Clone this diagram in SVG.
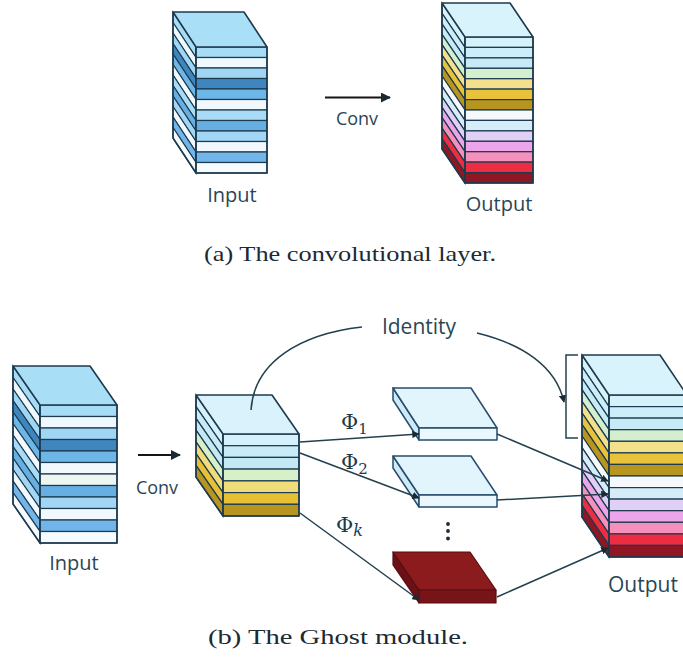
<svg xmlns="http://www.w3.org/2000/svg" width="683" height="661" viewBox="0 0 683 661">
<style>
.ln{stroke:#1d3a4e;stroke-width:1.2;vector-effect:non-scaling-stroke}
.edge{fill:none;stroke:#1d3a4e;stroke-width:1.6;stroke-linejoin:round}
.lbl{font-family:"Open Sans","Noto Sans",sans-serif;fill:#2a4655;text-anchor:middle}
.cap{font-family:"Liberation Serif","Times New Roman",serif;fill:#1b2a33;text-anchor:middle}
.phi{font-family:"DejaVu Serif","Liberation Serif",serif;fill:#1e3a4a}
.wire{fill:none;stroke:#23404e;stroke-width:1.5}
.conv{fill:none;stroke:#151515;stroke-width:2}
.thin-blue{stroke:#264c6e;stroke-width:1.5;stroke-linejoin:round}
.thin-red{stroke:#5a0e10;stroke-width:1.2;stroke-linejoin:round}
</style>
<defs>
<marker id="ah" viewBox="0 0 10 10" refX="9" refY="5" markerWidth="5" markerHeight="5" orient="auto">
<path d="M0,0 L10,5 L0,10 Z" fill="#1a2a33"/>
</marker>
</defs>

<!-- (a) input feature map -->
<g id="conv-input">
<g transform="translate(196 0) skewY(56.69)">
<rect class="ln" x="-23" y="47" width="23" height="10.5" fill="#a6dcf5"/>
<rect class="ln" x="-23" y="57.5" width="23" height="10.5" fill="#eef8fd"/>
<rect class="ln" x="-23" y="68" width="23" height="10.5" fill="#9fd6f3"/>
<rect class="ln" x="-23" y="78.5" width="23" height="10.5" fill="#3f86bf"/>
<rect class="ln" x="-23" y="89" width="23" height="10.5" fill="#6db6e8"/>
<rect class="ln" x="-23" y="99.5" width="23" height="10.5" fill="#f1f9fe"/>
<rect class="ln" x="-23" y="110" width="23" height="10.5" fill="#a8dbf6"/>
<rect class="ln" x="-23" y="120.5" width="23" height="10.5" fill="#67aee3"/>
<rect class="ln" x="-23" y="131" width="23" height="10.5" fill="#a3d6f4"/>
<rect class="ln" x="-23" y="141.5" width="23" height="10.5" fill="#f1f9fe"/>
<rect class="ln" x="-23" y="152" width="23" height="10.5" fill="#72b5e9"/>
<rect class="ln" x="-23" y="162.5" width="23" height="10.5" fill="#f5fbff"/>
</g>
<g class="ln">
<rect x="196" y="47" width="71" height="10.5" fill="#a6dcf5"/>
<rect x="196" y="57.5" width="71" height="10.5" fill="#eef8fd"/>
<rect x="196" y="68" width="71" height="10.5" fill="#9fd6f3"/>
<rect x="196" y="78.5" width="71" height="10.5" fill="#3f86bf"/>
<rect x="196" y="89" width="71" height="10.5" fill="#6db6e8"/>
<rect x="196" y="99.5" width="71" height="10.5" fill="#f1f9fe"/>
<rect x="196" y="110" width="71" height="10.5" fill="#a8dbf6"/>
<rect x="196" y="120.5" width="71" height="10.5" fill="#67aee3"/>
<rect x="196" y="131" width="71" height="10.5" fill="#a3d6f4"/>
<rect x="196" y="141.5" width="71" height="10.5" fill="#f1f9fe"/>
<rect x="196" y="152" width="71" height="10.5" fill="#72b5e9"/>
<rect x="196" y="162.5" width="71" height="10.5" fill="#f5fbff"/>
</g>
<polygon points="196,47 173,12 244,12 267,47" fill="#aadff8"/>
<path class="edge" d="M173,12 L244,12 L267,47 L267,173 L196,173 L173,138 Z M173,12 L196,47 L267,47 M196,47 V173"/>
<text class="lbl" x="232" y="202" font-size="20">Input</text>
</g>

<!-- (a) output feature map -->
<g id="conv-output">
<g transform="translate(465 0) skewY(55.92)">
<rect class="ln" x="-23" y="37" width="23" height="10.4" fill="#d5f2fb"/>
<rect class="ln" x="-23" y="47.4" width="23" height="10.5" fill="#cbeefa"/>
<rect class="ln" x="-23" y="57.9" width="23" height="10.4" fill="#c6ebf6"/>
<rect class="ln" x="-23" y="68.3" width="23" height="10.4" fill="#d3efcf"/>
<rect class="ln" x="-23" y="78.7" width="23" height="10.4" fill="#f3e08c"/>
<rect class="ln" x="-23" y="89.1" width="23" height="10.5" fill="#e8c23a"/>
<rect class="ln" x="-23" y="99.6" width="23" height="10.4" fill="#b8951f"/>
<rect class="ln" x="-23" y="110" width="23" height="10.4" fill="#f5f9fb"/>
<rect class="ln" x="-23" y="120.4" width="23" height="10.5" fill="#d6ecf8"/>
<rect class="ln" x="-23" y="130.9" width="23" height="10.4" fill="#e1d0f5"/>
<rect class="ln" x="-23" y="141.3" width="23" height="10.4" fill="#eba5e8"/>
<rect class="ln" x="-23" y="151.7" width="23" height="10.4" fill="#f58fbc"/>
<rect class="ln" x="-23" y="162.1" width="23" height="10.5" fill="#ee2d42"/>
<rect class="ln" x="-23" y="172.6" width="23" height="10.4" fill="#8f1623"/>
</g>
<g class="ln">
<rect x="465" y="37" width="68" height="10.4" fill="#d5f2fb"/>
<rect x="465" y="47.4" width="68" height="10.5" fill="#cbeefa"/>
<rect x="465" y="57.9" width="68" height="10.4" fill="#c6ebf6"/>
<rect x="465" y="68.3" width="68" height="10.4" fill="#d3efcf"/>
<rect x="465" y="78.7" width="68" height="10.4" fill="#f3e08c"/>
<rect x="465" y="89.1" width="68" height="10.5" fill="#e8c23a"/>
<rect x="465" y="99.6" width="68" height="10.4" fill="#b8951f"/>
<rect x="465" y="110" width="68" height="10.4" fill="#f5f9fb"/>
<rect x="465" y="120.4" width="68" height="10.5" fill="#d6ecf8"/>
<rect x="465" y="130.9" width="68" height="10.4" fill="#e1d0f5"/>
<rect x="465" y="141.3" width="68" height="10.4" fill="#eba5e8"/>
<rect x="465" y="151.7" width="68" height="10.4" fill="#f58fbc"/>
<rect x="465" y="162.1" width="68" height="10.5" fill="#ee2d42"/>
<rect x="465" y="172.6" width="68" height="10.4" fill="#8f1623"/>
</g>
<polygon points="465,37 442,3 510,3 533,37" fill="#d8f3fc"/>
<path class="edge" d="M442,3 L510,3 L533,37 L533,183 L465,183 L442,149 Z M442,3 L465,37 L533,37 M465,37 V183"/>
<text class="lbl" x="499" y="211" font-size="20">Output</text>
</g>

<!-- (b) input feature map -->
<g id="ghost-input">
<g transform="translate(40 0) skewY(55.30)">
<rect class="ln" x="-27" y="405" width="27" height="11.5" fill="#a6dcf5"/>
<rect class="ln" x="-27" y="416.5" width="27" height="11.5" fill="#eef8fd"/>
<rect class="ln" x="-27" y="428" width="27" height="11.5" fill="#9fd6f3"/>
<rect class="ln" x="-27" y="439.5" width="27" height="11.5" fill="#3f86bf"/>
<rect class="ln" x="-27" y="451" width="27" height="11.5" fill="#6db6e8"/>
<rect class="ln" x="-27" y="462.5" width="27" height="11.5" fill="#f1f9fe"/>
<rect class="ln" x="-27" y="474" width="27" height="11.5" fill="#a8dbf6"/>
<rect class="ln" x="-27" y="485.5" width="27" height="11.5" fill="#67aee3"/>
<rect class="ln" x="-27" y="497" width="27" height="11.5" fill="#a3d6f4"/>
<rect class="ln" x="-27" y="508.5" width="27" height="11.5" fill="#f1f9fe"/>
<rect class="ln" x="-27" y="520" width="27" height="11.5" fill="#72b5e9"/>
<rect class="ln" x="-27" y="531.5" width="27" height="11.5" fill="#f5fbff"/>
</g>
<g class="ln">
<rect x="40" y="405" width="77" height="11.5" fill="#a6dcf5"/>
<rect x="40" y="416.5" width="77" height="11.5" fill="#eef8fd"/>
<rect x="40" y="428" width="77" height="11.5" fill="#9fd6f3"/>
<rect x="40" y="439.5" width="77" height="11.5" fill="#3f86bf"/>
<rect x="40" y="451" width="77" height="11.5" fill="#6db6e8"/>
<rect x="40" y="462.5" width="77" height="11.5" fill="#f1f9fe"/>
<rect x="40" y="474" width="77" height="11.5" fill="#eef6f2"/>
<rect x="40" y="485.5" width="77" height="11.5" fill="#67aee3"/>
<rect x="40" y="497" width="77" height="11.5" fill="#a3d6f4"/>
<rect x="40" y="508.5" width="77" height="11.5" fill="#f1f9fe"/>
<rect x="40" y="520" width="77" height="11.5" fill="#72b5e9"/>
<rect x="40" y="531.5" width="77" height="11.5" fill="#f5fbff"/>
</g>
<polygon points="40,405 13,366 90,366 117,405" fill="#a9def7"/>
<path class="edge" d="M13,366 L90,366 L117,405 L117,543 L40,543 L13,504 Z M13,366 L40,405 L117,405 M40,405 V543"/>
<text class="lbl" x="74" y="570" font-size="20">Input</text>
</g>

<!-- (b) intrinsic feature maps -->
<g id="intrinsic">
<g transform="translate(223 0) skewY(55.30)">
<rect class="ln" x="-27" y="434" width="27" height="11.7" fill="#d5f1fb"/>
<rect class="ln" x="-27" y="445.7" width="27" height="11.7" fill="#c9ebf8"/>
<rect class="ln" x="-27" y="457.4" width="27" height="11.7" fill="#c3e9f4"/>
<rect class="ln" x="-27" y="469.1" width="27" height="11.8" fill="#d6f0c9"/>
<rect class="ln" x="-27" y="480.9" width="27" height="11.7" fill="#f1dc7c"/>
<rect class="ln" x="-27" y="492.6" width="27" height="11.7" fill="#e8c033"/>
<rect class="ln" x="-27" y="504.3" width="27" height="11.7" fill="#b89521"/>
</g>
<g class="ln">
<rect x="223" y="434" width="76" height="11.7" fill="#d5f1fb"/>
<rect x="223" y="445.7" width="76" height="11.7" fill="#c9ebf8"/>
<rect x="223" y="457.4" width="76" height="11.7" fill="#c3e9f4"/>
<rect x="223" y="469.1" width="76" height="11.8" fill="#d6f0c9"/>
<rect x="223" y="480.9" width="76" height="11.7" fill="#f1dc7c"/>
<rect x="223" y="492.6" width="76" height="11.7" fill="#e8c033"/>
<rect x="223" y="504.3" width="76" height="11.7" fill="#b89521"/>
</g>
<polygon points="223,434 196,395 272,395 299,434" fill="#d9f2fb"/>
<path class="edge" d="M196,395 L272,395 L299,434 L299,516 L223,516 L196,477 Z M196,395 L223,434 L299,434 M223,434 V516"/>
</g>

<!-- (b) ghost maps from cheap operations -->
<g id="ghost-1">
<polygon class="thin-blue" points="419,428 393,388 393,400 419,440" fill="#cfeaf7"/>
<polygon class="thin-blue" points="419,428 393,388 471,388 497,428" fill="#e2f5fd"/>
<rect class="thin-blue" x="419" y="428" width="78" height="12" fill="#eaf7fd"/>
</g>
<g id="ghost-2">
<polygon class="thin-blue" points="419,495 393,456 393,468 419,507" fill="#cfeaf7"/>
<polygon class="thin-blue" points="419,495 393,456 471,456 497,495" fill="#e2f5fd"/>
<rect class="thin-blue" x="419" y="495" width="78" height="12" fill="#eaf7fd"/>
</g>
<g id="ellipsis" fill="#1a2a33">
<circle cx="448" cy="524" r="1.9"/>
<circle cx="448" cy="531" r="1.9"/>
<circle cx="448" cy="538.5" r="1.9"/>
</g>
<g id="ghost-k">
<polygon class="thin-red" points="419,590 393,552 393,565 419,603" fill="#6b1014"/>
<polygon class="thin-red" points="419,590 393,552 470,552 496,590" fill="#8b1b1d"/>
<rect class="thin-red" x="419" y="590" width="77" height="13" fill="#761418"/>
</g>

<!-- (b) output feature maps -->
<g id="ghost-output">
<g transform="translate(609 0) skewY(55.98)">
<rect class="ln" x="-27" y="395" width="27" height="11.6" fill="#d5f2fb"/>
<rect class="ln" x="-27" y="406.6" width="27" height="11.5" fill="#cbeefa"/>
<rect class="ln" x="-27" y="418.1" width="27" height="11.6" fill="#c6ebf6"/>
<rect class="ln" x="-27" y="429.7" width="27" height="11.6" fill="#d3efcf"/>
<rect class="ln" x="-27" y="441.3" width="27" height="11.6" fill="#f3e08c"/>
<rect class="ln" x="-27" y="452.9" width="27" height="11.5" fill="#e8c23a"/>
<rect class="ln" x="-27" y="464.4" width="27" height="11.6" fill="#b8951f"/>
<rect class="ln" x="-27" y="476" width="27" height="11.6" fill="#f5f9fb"/>
<rect class="ln" x="-27" y="487.6" width="27" height="11.5" fill="#d6ecf8"/>
<rect class="ln" x="-27" y="499.1" width="27" height="11.6" fill="#e1d0f5"/>
<rect class="ln" x="-27" y="510.7" width="27" height="11.6" fill="#eba5e8"/>
<rect class="ln" x="-27" y="522.3" width="27" height="11.6" fill="#f58fbc"/>
<rect class="ln" x="-27" y="533.9" width="27" height="11.5" fill="#ee2d42"/>
<rect class="ln" x="-27" y="545.4" width="27" height="11.6" fill="#8f1623"/>
</g>
<g class="ln">
<rect x="609" y="395" width="78" height="11.6" fill="#d5f2fb"/>
<rect x="609" y="406.6" width="78" height="11.5" fill="#cbeefa"/>
<rect x="609" y="418.1" width="78" height="11.6" fill="#c6ebf6"/>
<rect x="609" y="429.7" width="78" height="11.6" fill="#d3efcf"/>
<rect x="609" y="441.3" width="78" height="11.6" fill="#f3e08c"/>
<rect x="609" y="452.9" width="78" height="11.5" fill="#e8c23a"/>
<rect x="609" y="464.4" width="78" height="11.6" fill="#b8951f"/>
<rect x="609" y="476" width="78" height="11.6" fill="#f5f9fb"/>
<rect x="609" y="487.6" width="78" height="11.5" fill="#d6ecf8"/>
<rect x="609" y="499.1" width="78" height="11.6" fill="#e1d0f5"/>
<rect x="609" y="510.7" width="78" height="11.6" fill="#eba5e8"/>
<rect x="609" y="522.3" width="78" height="11.6" fill="#f58fbc"/>
<rect x="609" y="533.9" width="78" height="11.5" fill="#ee2d42"/>
<rect x="609" y="545.4" width="78" height="11.6" fill="#8f1623"/>
</g>
<polygon points="609,395 582,355 660,355 687,395" fill="#d8f3fc"/>
<path class="edge" d="M582,355 L660,355 L687,395 L687,557 L609,557 L582,517 Z M582,355 L609,395 L687,395 M609,395 V557"/>
<text class="lbl" x="643" y="592" font-size="21">Output</text>
</g>

<!-- connectors -->
<g id="connectors">
<path class="conv" d="M325,97.5 H390" marker-end="url(#ah)"/>
<path class="conv" d="M138,455 H180" marker-end="url(#ah)"/>
<path class="wire" d="M251,410 C254,362 300,334 362,327"/>
<path class="wire" d="M477,333 C522,344 556,366 564,402" marker-end="url(#ah)"/>
<path class="wire" d="M578,355 H566 V438 H578"/>
<path class="wire" d="M300,442 L419,434" marker-end="url(#ah)"/>
<path class="wire" d="M300,453 L419,498" marker-end="url(#ah)"/>
<path class="wire" d="M300,513 L419,600" marker-end="url(#ah)"/>
<path class="wire" d="M497,434 L608,481" marker-end="url(#ah)"/>
<path class="wire" d="M497,500 L608,494" marker-end="url(#ah)"/>
<path class="wire" d="M497,597 L608,548" marker-end="url(#ah)"/>
</g>

<!-- labels -->
<text class="lbl" x="357" y="125" font-size="18">Conv</text>
<text class="lbl" x="157" y="494" font-size="18">Conv</text>
<text class="lbl" x="419" y="334" font-size="21">Identity</text>
<text class="phi" x="341" y="429" font-size="21">Φ<tspan font-size="15" dy="5">1</tspan></text>
<text class="phi" x="341" y="469" font-size="21">Φ<tspan font-size="15" dy="5">2</tspan></text>
<text class="phi" x="336" y="532" font-size="21">Φ<tspan font-size="16" dy="4" font-style="italic">k</tspan></text>

<!-- captions -->
<text class="cap" x="350" y="261" font-size="22" textLength="292" lengthAdjust="spacingAndGlyphs">(a)  The convolutional layer.</text>
<text class="cap" x="338" y="644" font-size="22" textLength="260" lengthAdjust="spacingAndGlyphs">(b)  The Ghost module.</text>
</svg>
